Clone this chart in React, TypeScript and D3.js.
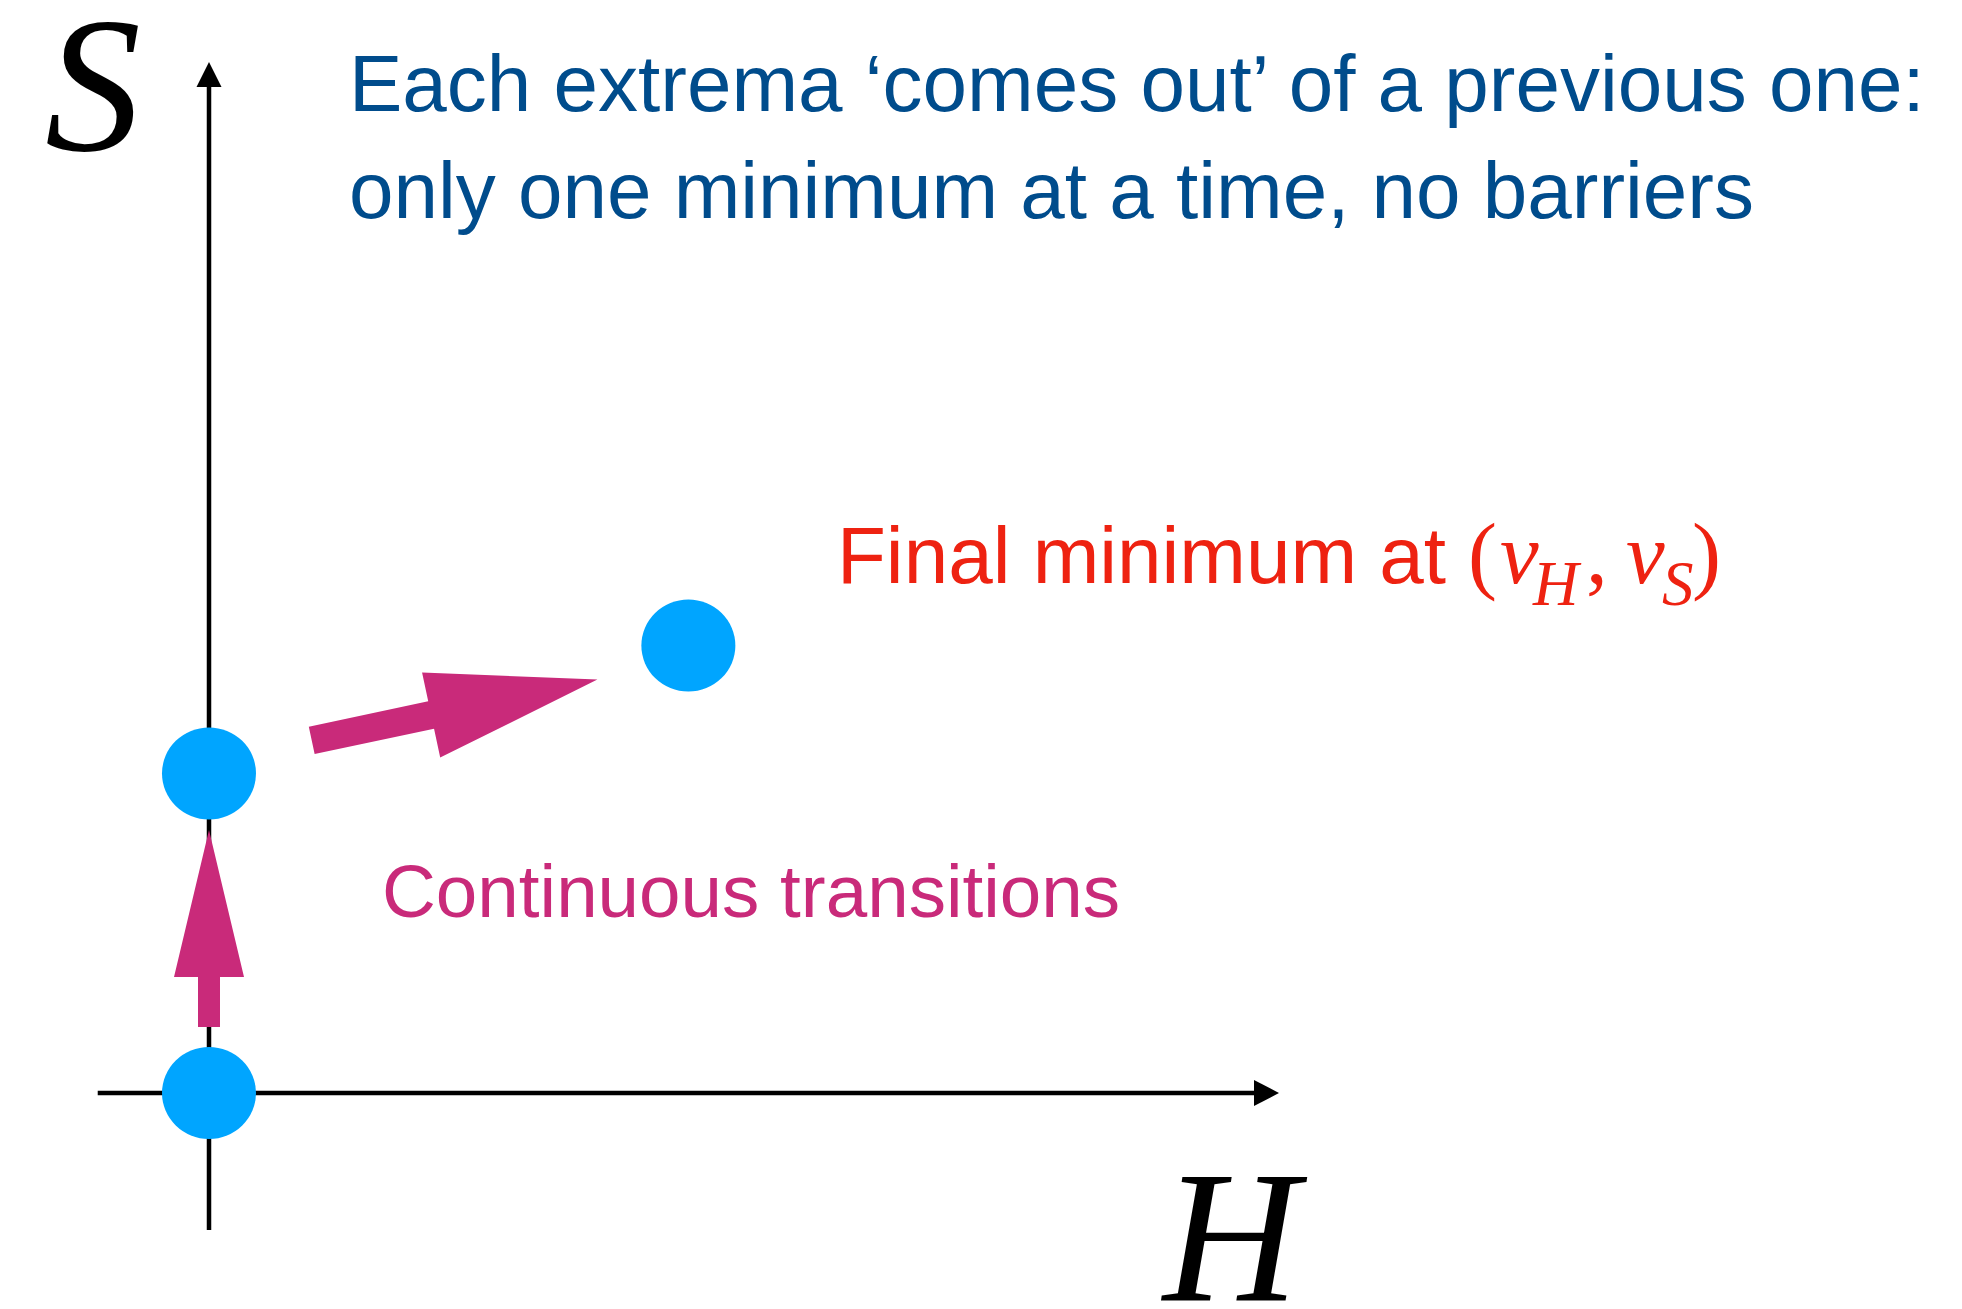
import React from 'react';
import * as d3 from 'd3';

// minima in (H, S) space: origin, the one on the S axis, the final one
const minimaH = [0, 0, 0.448];
const minimaS = [0, 0.31, 0.434];

// continuous transitions: [fromH, fromS, toH, toS]
const transitionFrom = [[0, 0.064], [0.096, 0.342]];
const transitionTo = [[0, 0.255], [0.363, 0.401]];

const titleLines = [
  'Each extrema \u2018comes out\u2019 of a previous one:',
  'only one minimum at a time, no barriers',
];

const W = 1962;
const H = 1309;

const BLUE_DOT = '#00a5ff';
const MAGENTA = '#c92a7a';
const NAVY = '#004c8c';
const RED = '#ee2211';

const sans = '"Liberation Sans", Arial, Helvetica, sans-serif';
const serif = '"Liberation Serif", "Times New Roman", serif';

function arrowPath(
  x0: number, y0: number, x1: number, y1: number,
  shaftW: number, headW: number, headL: number,
) {
  const dx = x1 - x0;
  const dy = y1 - y0;
  const len = Math.sqrt(dx * dx + dy * dy);
  const ux = dx / len;
  const uy = dy / len;
  const nx = -uy;
  const ny = ux;
  const bx = x1 - ux * headL;
  const by = y1 - uy * headL;
  const pts: [number, number][] = [
    [x0 + nx * shaftW / 2, y0 + ny * shaftW / 2],
    [bx + nx * shaftW / 2, by + ny * shaftW / 2],
    [bx + nx * headW / 2, by + ny * headW / 2],
    [x1, y1],
    [bx - nx * headW / 2, by - ny * headW / 2],
    [bx - nx * shaftW / 2, by - ny * shaftW / 2],
    [x0 - nx * shaftW / 2, y0 - ny * shaftW / 2],
  ];
  return d3.line()(pts) + 'Z';
}

export default function App() {
  const x = d3.scaleLinear().domain([0, 1]).range([209, 1279]);
  const y = d3.scaleLinear().domain([0, 1]).range([1093, 62]);

  const axisW = 4.5;
  const headSize = 25;

  // arrow sizes for each transition
  const shaftW = [22, 28];
  const headW = [70, 87];
  const headL = [147, 170];

  return (
    <svg
      width={W}
      height={H}
      style={{ position: 'absolute', left: 0, top: 0, background: '#fff' }}
    >
      <rect width={W} height={H} fill="#fff" />

      {/* H axis */}
      <line
        x1={x(-0.104)} y1={y(0)} x2={x(1) - headSize} y2={y(0)}
        stroke="#000" strokeWidth={axisW}
      />
      <path
        d={`M${x(1)},${y(0)}L${x(1) - headSize},${y(0) - 13}L${x(1) - headSize},${y(0) + 13}Z`}
        fill="#000"
      />
      {/* S axis */}
      <line
        x1={x(0)} y1={y(-0.133)} x2={x(0)} y2={y(1) + headSize}
        stroke="#000" strokeWidth={axisW}
      />
      <path
        d={`M${x(0)},${y(1)}L${x(0) - 12.5},${y(1) + headSize}L${x(0) + 12.5},${y(1) + headSize}Z`}
        fill="#000"
      />

      {/* transitions */}
      {transitionFrom.map((f, i) => (
        <path
          key={i}
          d={arrowPath(
            x(f[0]), y(f[1]), x(transitionTo[i][0]), y(transitionTo[i][1]),
            shaftW[i], headW[i], headL[i],
          )}
          fill={MAGENTA}
        />
      ))}

      {/* minima */}
      {minimaH.map((h, i) => (
        <ellipse key={i} cx={x(h)} cy={y(minimaS[i])} rx={47} ry={46} fill={BLUE_DOT} />
      ))}

      {/* axis labels */}
      <text x={45} y={150} fontFamily={serif} fontStyle="italic" fontSize={192} fill="#000">
        S
      </text>
      <text x={1163} y={1300} fontFamily={serif} fontStyle="italic" fontSize={188} fill="#000">
        H
      </text>

      {/* title */}
      {titleLines.map((t, i) => (
        <text key={i} x={349} y={111 + i * 107} fontFamily={sans} fontSize={80} fill={NAVY}>
          {t}
        </text>
      ))}

      {/* final minimum label */}
      <text x={837} y={583} fontFamily={sans} fontSize={80} fill={RED}>
        Final minimum at
      </text>
      <text y={583} fontFamily={serif} fontSize={87} fill={RED}>
        <tspan x={1468}>(</tspan>
        <tspan x={1500} fontStyle="italic">v</tspan>
        <tspan x={1533} y={605} fontStyle="italic" fontSize={63}>H</tspan>
        <tspan x={1586} y={583}>,</tspan>
        <tspan x={1626} fontStyle="italic">v</tspan>
        <tspan x={1662} y={605} fontStyle="italic" fontSize={63}>S</tspan>
        <tspan x={1692} y={583}>)</tspan>
      </text>

      <text x={382} y={917} fontFamily={sans} fontSize={74.6} fill={MAGENTA}>
        Continuous transitions
      </text>
    </svg>
  );
}
